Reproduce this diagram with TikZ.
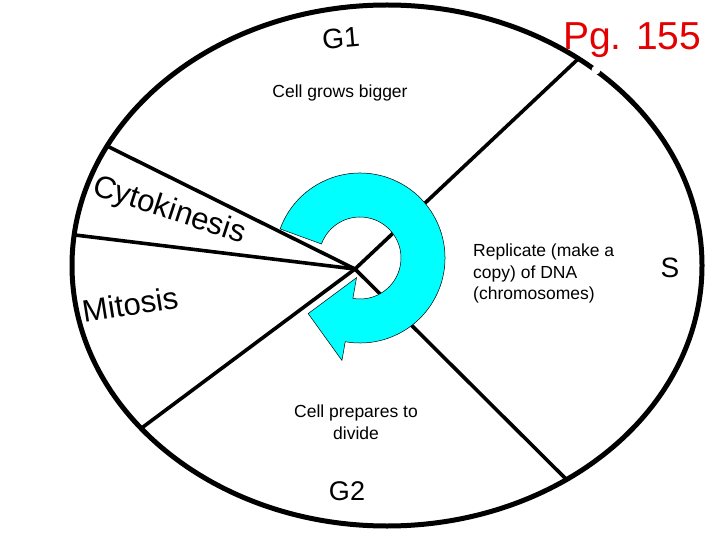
\documentclass[tikz,border=0pt]{standalone}
\usepackage{fontspec}
\setmainfont{Liberation Sans}
\usetikzlibrary{calc}
\definecolor{ArrowCyan}{RGB}{0,255,255}
\definecolor{PageRed}{RGB}{228,0,0}

\begin{document}
\begin{tikzpicture}[x=1pt, y=-1pt,
  spoke/.style={line width=3.6pt, line cap=round},
  phase/.style={inner sep=0pt, font=\fontsize{28}{28}\selectfont},
  note/.style={inner sep=0pt, font=\fontsize{17.5}{21.5}\selectfont},
  cyclearrow/.style={fill=ArrowCyan, draw=black, line width=0.5pt}]
  \useasboundingbox (0,0) rectangle (720,540);

  % centre of the cell and ends of the phase borders
  \coordinate (cell) at (387,265.5);
  \coordinate (hub) at (355,269);
  \coordinate (g1s) at (577,60);
  \coordinate (sg2) at (567,480);
  \coordinate (g2m) at (143,427);
  \coordinate (mcyto) at (75,235);
  \coordinate (cytog1) at (105,145);

  % phase borders, cut at the cell wall
  \begin{scope}
    \clip (cell) ellipse [x radius=315pt, y radius=260.5pt];
    \foreach \p in {g1s,sg2,g2m,mcyto,cytog1}
      \draw[spoke] (hub) -- ($(hub)!1.3!(\p)$);
  \end{scope}
  \draw[line width=5pt] (cell) ellipse [x radius=315pt, y radius=260.5pt];
  \fill[white] (596,70) circle (4.5pt);

  % round arrow in the middle
  \begin{scope}[shift={(360,258)}, x=1pt, y=1pt]
    \filldraw[cyclearrow] (160:85) arc[start angle=160, end angle=-100, radius=85]
      -- (-100:104) -- (-133:76) -- (-100:20) -- (-100:41)
      arc[start angle=-100, end angle=160, radius=41] -- cycle;
  \end{scope}

  % labels
  \node[phase, rotate=5] (g1) at (341,38) {G1};
  \node[inner sep=0pt, anchor=base west, text=PageRed,
    font=\fontsize{39}{39}\selectfont] (page) at (563,50) {Pg. 155};
  \node[note, anchor=base] (grow) at (340,98) {Cell grows bigger};
  \node[note, anchor=north west, align=left] (replicate) at (473,244)
    {Replicate (make a\\copy) of DNA\\(chromosomes)};
  \node[phase] (s) at (670,268) {S};
  \node[note, anchor=north, align=center] (prepare) at (356,405)
    {Cell prepares to\\divide};
  \node[phase, font=\fontsize{27}{27}\selectfont] (g2) at (347,491) {G2};
  \node[phase, rotate=9, anchor=base west, font=\fontsize{31}{31}\selectfont]
    (mitosis) at (84,323) {Mitosis};
  \node[phase, rotate=-18, anchor=base west, font=\fontsize{31}{31}\selectfont]
    (cyto) at (91,194) {Cytokinesis};
\end{tikzpicture}
\end{document}
